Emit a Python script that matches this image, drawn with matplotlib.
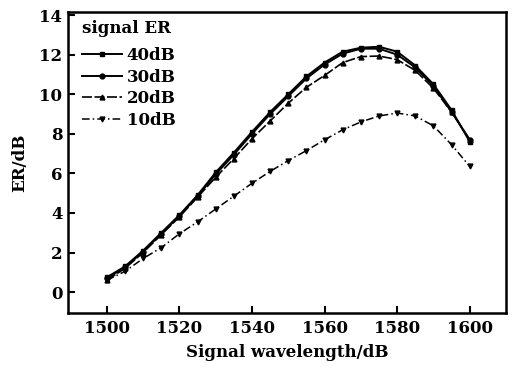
import numpy as np
import matplotlib.pyplot as plt

plt.rcParams['font.family'] = ['DejaVu Serif']
plt.rcParams['font.weight'] = 'bold'

wavelength = np.arange(1500, 1601, 5)

er_40 = [0.75, 1.3, 2.1, 3.0, 3.9, 4.9, 6.05, 7.05, 8.1, 9.1, 10.0,
         10.9, 11.6, 12.15, 12.35, 12.4, 12.15, 11.45, 10.5, 9.2, 7.6]
er_30 = [0.7, 1.25, 2.05, 2.95, 3.85, 4.85, 5.95, 6.95, 8.0, 9.0, 9.9,
         10.8, 11.5, 12.05, 12.3, 12.3, 12.0, 11.35, 10.4, 9.1, 7.7]
er_20 = [0.6, 1.2, 2.0, 2.9, 3.8, 4.8, 5.8, 6.75, 7.75, 8.65, 9.55,
         10.35, 10.95, 11.6, 11.9, 11.93, 11.75, 11.2, 10.3, 9.1, 7.7]
er_10 = [0.6, 1.05, 1.7, 2.25, 2.95, 3.55, 4.2, 4.85, 5.5, 6.1, 6.65,
         7.15, 7.7, 8.2, 8.6, 8.9, 9.05, 8.9, 8.4, 7.45, 6.35]

labels = ["40dB", "30dB", "20dB", "10dB"]

fig = plt.figure(figsize=(5.13, 3.66), dpi=100)
ax = fig.add_axes([0.1326, 0.145, 0.8538, 0.822])

ax.plot(wavelength, er_40, color='k', lw=1.4, marker='s', ms=3.5, label=labels[0])
ax.plot(wavelength, er_30, color='k', lw=1.4, marker='o', ms=3.5, label=labels[1])
ax.plot(wavelength, er_20, color='k', lw=1.2, ls=(0, (6, 1.5)), marker='^', ms=3.5, label=labels[2])
ax.plot(wavelength, er_10, color='k', lw=1.1, ls=(0, (5, 2, 1, 2)), marker='v', ms=3.5, label=labels[3])

ax.set_xlim(1489.3, 1610)
ax.set_ylim(-1.05, 14.15)
ax.set_xticks(range(1500, 1601, 20))
ax.set_yticks(range(0, 15, 2))
ax.tick_params(direction='in', length=5, width=1.5, labelsize=12)
ax.tick_params(axis='x', pad=5)
ax.tick_params(axis='y', pad=4)
for s in ax.spines.values():
    s.set_linewidth(1.8)

ax.set_xlabel("Signal wavelength/dB", fontsize=12, fontweight='bold', labelpad=5)
ax.set_ylabel("ER/dB", fontsize=12, fontweight='bold', labelpad=8)

leg = ax.legend(title="signal ER", loc='upper left', bbox_to_anchor=(0.01, 1.005),
                frameon=False, fontsize=12, title_fontsize=12, handlelength=2.4,
                handletextpad=0.3, labelspacing=0.27, borderpad=0.55, borderaxespad=0.0)
leg._legend_box.align = "left"
leg._legend_box.sep = 7.5

fig.savefig("out.png", dpi=100)
